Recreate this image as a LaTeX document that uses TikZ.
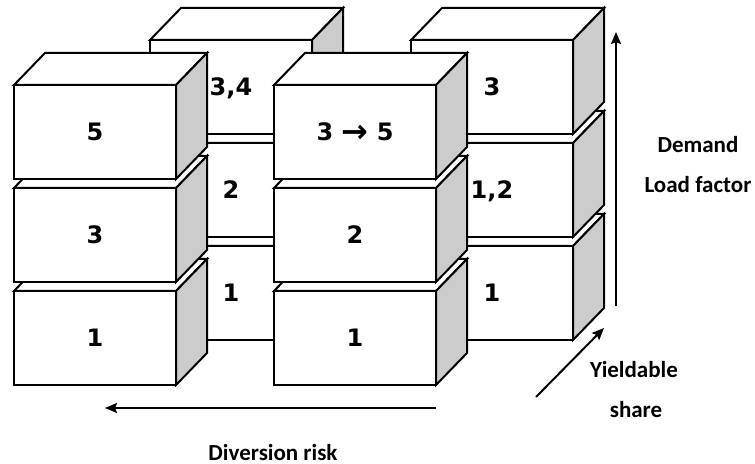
\documentclass[tikz,border=0pt]{standalone}
\usepackage{fontspec}
\setmainfont{DejaVu Sans}
\newfontfamily\axisfont{Carlito}
\usepackage{tikz}
\usetikzlibrary{arrows.meta}
\definecolor{sidegray}{gray}{0.8}
\tikzset{
  boxline/.style={draw, line width=1pt},
  num/.style={font=\fontsize{12}{14}\selectfont\bfseries, text depth=0pt},
  axislabel/.style={font=\axisfont\fontsize{11.5}{13}\selectfont\bfseries, anchor=base},
  axisarrow/.style={line width=1pt, -{Stealth[length=6pt, width=5pt, inset=1pt]}}
}

% one box: node name, left x, top y of the front face, label
\newcommand{\cuboid}[4]{
  \draw[boxline, fill=white] (#2,#3) -- ++(31,-32) -- ++(162,0) -- ++(-31,32) -- cycle;
  \draw[boxline, fill=sidegray] (#2+162,#3) -- ++(31,-32) -- ++(0,94) -- ++(-31,32) -- cycle;
  \draw[boxline, fill=white] (#2,#3) rectangle ++(162,94);
  \node[num] (#1) at (#2+81,#3+47) {#4};
}

\begin{document}
\begin{tikzpicture}[x=0.5pt, y=-0.5pt]
  \useasboundingbox (0,0) rectangle (755,464);

  % back row
  \cuboid{bl1}{150}{246}{1}
  \cuboid{bl2}{150}{143}{2}
  \cuboid{bl3}{150}{40}{3,4}
  \cuboid{br1}{411}{246}{1}
  \cuboid{br2}{411}{143}{1,2}
  \cuboid{br3}{411}{40}{3}

  % front row
  \cuboid{fl1}{14}{291}{1}
  \cuboid{fl2}{14}{188}{3}
  \cuboid{fl3}{14}{85}{5}
  \cuboid{fr1}{274}{291}{1}
  \cuboid{fr2}{274}{188}{2}
  \cuboid{fr3}{274}{85}{3 {\fontsize{16}{16}\selectfont\raisebox{-0.6pt}{→}} 5}

  % axes
  \coordinate (up-s) at (616,306);
  \coordinate (up-e) at (616,32);
  \coordinate (in-s) at (536,397);
  \coordinate (in-e) at (604,328);
  \coordinate (left-s) at (436,408);
  \coordinate (left-e) at (105,408);
  \draw[axisarrow] (up-s) -- (up-e);
  \draw[axisarrow] (in-s) -- (in-e);
  \draw[axisarrow] (left-s) -- (left-e);

  \node[axislabel] (demand) at (698,153) {Demand};
  \node[axislabel] (load) at (698,193) {Load factor};
  \node[axislabel] (yield) at (634,378) {Yieldable};
  \node[axislabel] (share) at (636,418) {share};
  \node[axislabel] (risk) at (273,460) {Diversion risk};
\end{tikzpicture}
\end{document}
